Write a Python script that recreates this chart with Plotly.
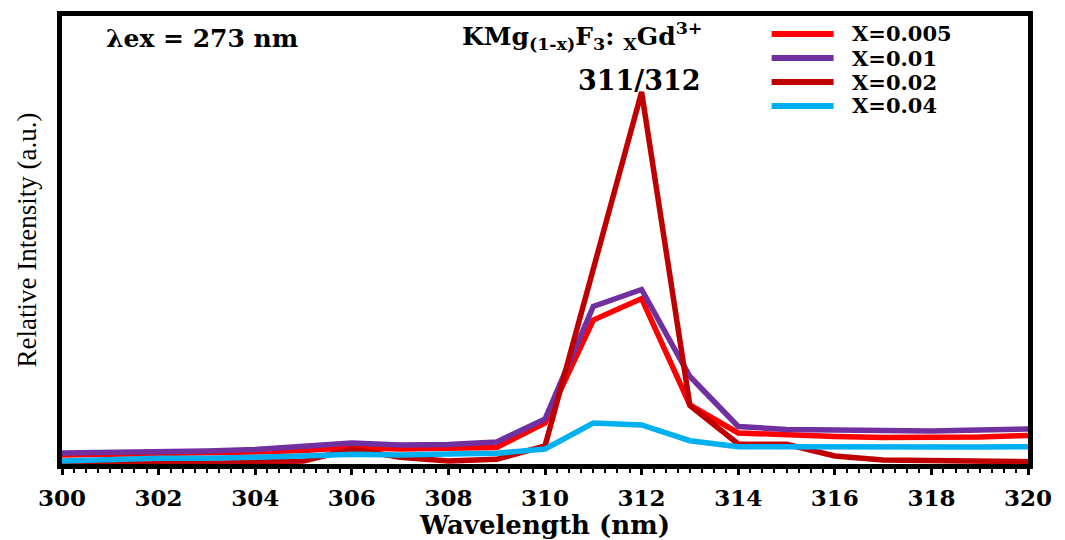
import plotly.graph_objects as go

# ---- data ----
wavelength = list(range(300, 321))
series_names = ["X=0.005", "X=0.01", "X=0.02", "X=0.04"]
series_colors = ["#FF0000", "#7030A0", "#C00000", "#00B0F0"]

x0005 = [12.5, 13, 13.5, 14, 15.5, 17, 20, 18.5, 19, 20, 44.5, 147.5, 169, 62.5, 34.5, 32.5, 31, 30, 30, 30.5, 32]
x001 = [14.5, 15, 16, 16.5, 18, 21, 24.5, 22.5, 23, 25.5, 48.5, 161, 178, 91, 41, 38, 37.5, 37, 36.5, 37.5, 38.5]
x002 = [5.8, 5.8, 5.5, 4.2, 4.8, 6.5, 18.5, 10.2, 6.5, 8.2, 21.5, 199.5, 375.5, 62, 23.5, 23.2, 11.5, 7.5, 6.5, 6, 5.8]
x004 = [6.5, 8.2, 9.2, 9.2, 9.8, 11.5, 13.2, 12.5, 13.5, 14.2, 18.5, 44.5, 42.5, 26.8, 20.8, 20.5, 20.2, 20, 20, 20.5, 20.8]
series_values = [x0005, x001, x002, x004]

x_ticks = list(range(300, 321, 2))

# ---- layout geometry (pixels) ----
W, H = 1065, 540
L, R, T, B = 62, 36.5, 16, 76
plot_w = W - L - R
plot_h = H - T - B


def px(xp):
    return (xp - L) / plot_w


def py(yp):
    return (H - B - yp) / plot_h


fig = go.Figure()
for name, color, vals in zip(series_names, series_colors, series_values):
    fig.add_trace(go.Scatter(
        x=wavelength, y=vals, mode="lines", name=name,
        line=dict(color=color, width=5.5),
        showlegend=False,
    ))

bold_font = "DejaVu Serif"

annotations = [
    dict(text="λex = 273 nm", x=px(104), y=py(38), xanchor="left", yanchor="middle",
         font=dict(family=bold_font, size=25, color="black", weight="bold")),
    dict(text="KMg<sub>(1-x)</sub>F<sub>3</sub>: <sub>X</sub>Gd<sup>3+</sup>",
         x=px(582), y=py(36), xanchor="center", yanchor="middle",
         font=dict(family=bold_font, size=25, color="black", weight="bold")),
    dict(text="311/312", x=px(640), y=py(80), xanchor="center", yanchor="middle",
         font=dict(family=bold_font, size=27, color="black", weight="bold")),
]

shapes = []
legend_y = [34, 58, 82, 106]
for name, color, ly in zip(series_names, series_colors, legend_y):
    shapes.append(dict(type="line", xref="paper", yref="paper",
                       x0=px(772), x1=px(834), y0=py(ly), y1=py(ly),
                       line=dict(color=color, width=6)))
    annotations.append(dict(text=name, x=px(850), y=py(ly), xanchor="left", yanchor="middle",
                            font=dict(family=bold_font, size=21, color="black", weight="bold")))

for a in annotations:
    a.update(xref="paper", yref="paper", showarrow=False)

fig.update_layout(
    width=W, height=H,
    margin=dict(l=L, r=R, t=T, b=B, pad=0, autoexpand=False),
    paper_bgcolor="white", plot_bgcolor="white",
    showlegend=False,
    annotations=annotations,
    shapes=shapes,
    xaxis=dict(
        range=[300, 320], tickvals=x_ticks, ticktext=[str(v) for v in x_ticks],
        automargin=False,
        showgrid=False, zeroline=False,
        showline=True, linecolor="black", linewidth=5, mirror=True,
        ticks="outside", ticklen=6, tickwidth=3, tickcolor="black",
        minor=dict(dtick=0.25, ticks="outside", ticklen=4, tickwidth=2, tickcolor="black", showgrid=False),
        tickfont=dict(family=bold_font, size=23, color="black", weight="bold"),
        ticklabelstandoff=3,
        title=dict(text="Wavelength (nm)", standoff=8,
                   font=dict(family=bold_font, size=26, color="black", weight="bold")),
    ),
    yaxis=dict(
        range=[3.5, 451.5], showticklabels=False, ticks="",
        automargin=False,
        showgrid=False, zeroline=False,
        showline=True, linecolor="black", linewidth=5, mirror=True,
        title=dict(text="Relative Intensity (a.u.)", standoff=14,
                   font=dict(family="Liberation Serif", size=27, color="black")),
    ),
)

fig.write_html("out.html")
